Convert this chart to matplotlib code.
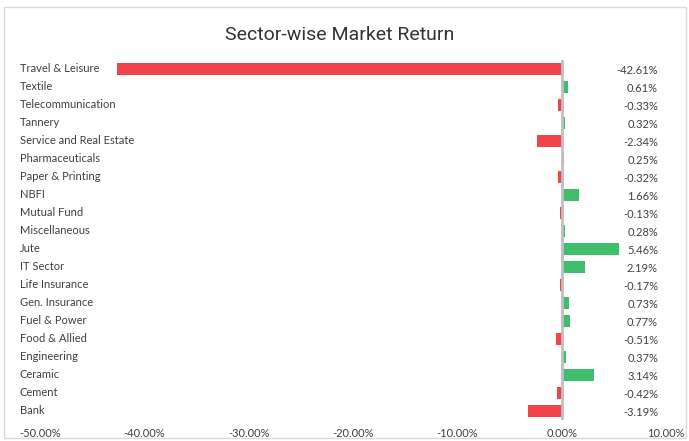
import matplotlib
matplotlib.use('Agg')
from matplotlib import pyplot as plt
from matplotlib.patches import Rectangle
from matplotlib.transforms import blended_transform_factory

sectors = ['Travel & Leisure', 'Textile', 'Telecommunication', 'Tannery',
           'Service and Real Estate', 'Pharmaceuticals', 'Paper & Printing',
           'NBFI', 'Mutual Fund', 'Miscellaneous', 'Jute', 'IT Sector',
           'Life Insurance', 'Gen. Insurance', 'Fuel & Power', 'Food & Allied',
           'Engineering', 'Ceramic', 'Cement', 'Bank']
returns = [-42.61, 0.61, -0.33, 0.32, -2.34, 0.25, -0.32, 1.66, -0.13, 0.28,
           5.46, 2.19, -0.17, 0.73, 0.77, -0.51, 0.37, 3.14, -0.42, -3.19]
x_ticks = [-50, -40, -30, -20, -10, 0, 10]

red = '#F0444A'
green = '#41BE6B'
txt = '#404040'
lab_font = 'Lato'

W, H = 689, 441
fig = plt.figure(figsize=(W / 100, H / 100), dpi=100)
# axes placed in pixel terms of the reference
ax = fig.add_axes([40 / W, 1 - 420 / H, 626 / W, 360 / H])

n = len(sectors)
ypos = list(range(n))
colors = [green if v >= 0 else red for v in returns]
ax.barh(ypos, returns, height=0.63, color=colors, zorder=2)
ax.axvline(0, color='#BFBFBF', linewidth=2, zorder=3)

ax.set_xlim(-50, 10)
ax.set_ylim(n - 0.5, -0.5)
ax.set_xticks(x_ticks)
ax.set_xticklabels(['%.2f%%' % t for t in x_ticks], fontsize=8,
                   color=txt, family=lab_font)
ax.tick_params(axis='x', length=0, pad=6)
ax.set_yticks([])
for s in ax.spines.values():
    s.set_visible(False)

tr = blended_transform_factory(fig.transFigure, ax.transData)
for y, name, v in zip(ypos, sectors, returns):
    ax.text(20 / W, y, name, transform=tr, ha='left', va='center',
            fontsize=8, color=txt, family=lab_font)
    ax.text(658 / W, y + 0.1, '%.2f%%' % v, transform=tr, ha='right',
            va='center', fontsize=8, color=txt, family=lab_font)

fig.text(340 / W, 1 - 35 / H, 'Sector-wise Market Return', ha='center',
         va='center', fontsize=14, color='#333333', family='Roboto')

fig.patches.append(Rectangle((4 / W, 3 / H), 682 / W, 1 - 10 / H,
                             transform=fig.transFigure, fill=False,
                             edgecolor='#D9D9D9', linewidth=1))

fig.savefig('out.png', dpi=100)
